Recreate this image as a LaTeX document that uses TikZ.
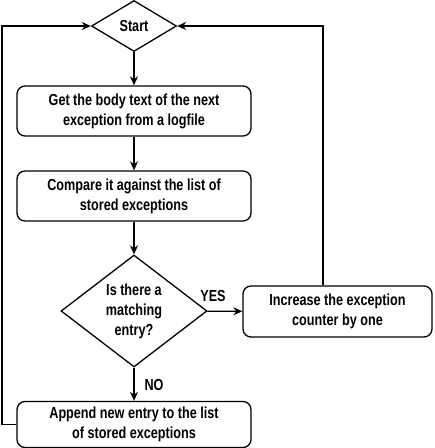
\documentclass[tikz,border=0pt]{standalone}
\usepackage{fontspec}
\setmainfont{Liberation Sans}[FakeStretch=0.79]
\usetikzlibrary{shapes.geometric,arrows.meta}
\begin{document}
\begin{tikzpicture}[x=1pt, y=-1pt,
  font=\fontsize{16}{20}\selectfont\bfseries,
  process/.style ={rectangle, draw, line width=1.3pt, rounded corners=8pt, align=center, minimum width=234pt, minimum height=50pt, inner sep=0pt},
  decision/.style ={diamond, draw, line width=1.3pt, align=center, inner sep=0pt},
  flow/.style ={line width=1.3pt, -{Stealth[length=9pt, width=8pt]}}]
 \useasboundingbox (0,0) rectangle (435,448);
 \node[decision, minimum width=85pt, minimum height=51pt] (S) at (134,26) {Start};
 \node[process] (G) at (134,111) {Get the body text of the next\\exception from a logfile};
 \node[process] (C) at (134,196) {Compare it against the list of\\stored exceptions};
 \node[decision, minimum width=146pt, minimum height=112pt] (M) at (134,311) {Is there a\\matching\\entry?};
 \node[process, minimum width=189pt, minimum height=51pt] (I) at (337.5,311.5) {Increase the exception\\counter by one};
 \node[process, minimum height=46pt] (A) at (134,424.5) {Append new entry to the list\\of stored exceptions};
 \node (Y) at (213,296) {YES};
 \node (N) at (154,385) {NO};
 \coordinate (L1) at (2,424.5);
 \coordinate (L2) at (2,26);
 \coordinate (R1) at (323,26);
 \draw[flow] (S) to (G);
 \draw[flow] (G) to (C);
 \draw[flow] (C) to (M);
 \draw[flow] (M) to (I);
 \draw[flow] (M) to (A);
 \draw[flow] (A.west) -- (L1) -- (L2) -- (S.west);
 \draw[flow] (I.north -| R1) -- (R1) -- (S.east);
\end{tikzpicture}
\end{document}
